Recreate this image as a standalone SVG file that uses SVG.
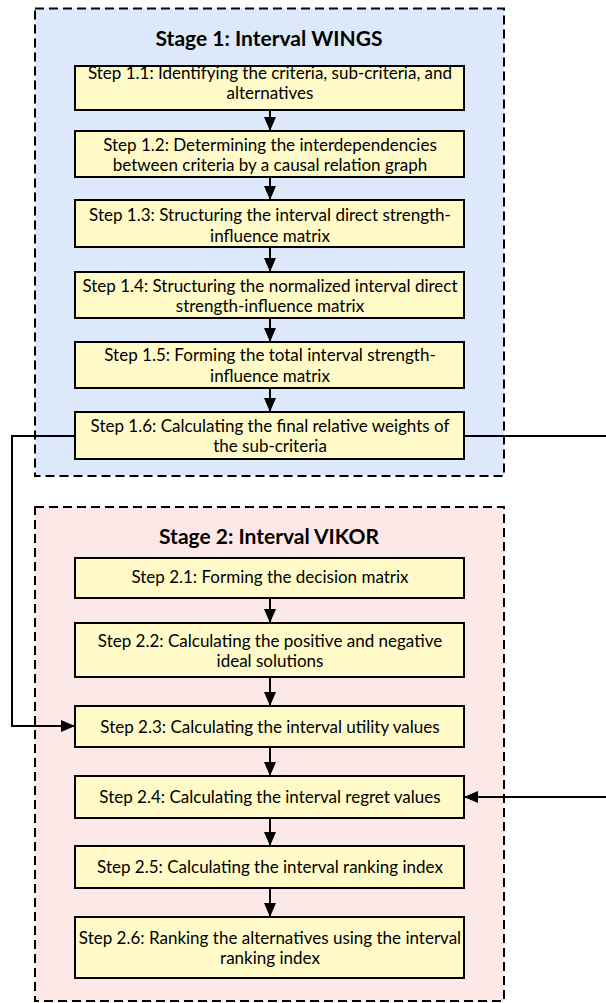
<svg xmlns="http://www.w3.org/2000/svg" width="606" height="1003" viewBox="0 0 606 1003">
<style>
.stage{stroke:#000;stroke-width:2;stroke-dasharray:9 5}
.s1{fill:#dde9fb}
.s2{fill:#fde8e8}
.box{fill:#fffac8;stroke:#000;stroke-width:2}
.title{font-family:Lato,"Liberation Sans",sans-serif;font-weight:bold;font-size:21px;fill:#000;text-anchor:middle}
.t{font-family:Lato,"Liberation Sans",sans-serif;font-size:17px;fill:#000;text-anchor:middle}
.c{fill:none;stroke:#000;stroke-width:2}
</style>
<defs>
<marker id="ah" markerWidth="14" markerHeight="12" refX="14" refY="6" orient="auto" markerUnits="userSpaceOnUse">
<path d="M0,0 L14,6 L0,12 Z" fill="#000"/>
</marker>
</defs>
<g id="stage1">
<rect class="stage s1" x="35" y="8.5" width="469" height="467.5"/>
<text class="title" x="269" y="46">Stage 1: Interval WINGS</text>
</g>
<g id="stage2">
<rect class="stage s2" x="35" y="507" width="469" height="494"/>
<text class="title" x="269" y="544">Stage 2: Interval VIKOR</text>
</g>
<g id="step11"><rect class="box" x="75" y="66" width="389" height="44"/>
<text class="t" x="270" y="78.5">Step 1.1: Identifying the criteria, sub-criteria, and</text>
<text class="t" x="270" y="99">alternatives</text></g>
<g id="step12"><rect class="box" x="75" y="131" width="389" height="46"/>
<text class="t" x="270" y="150.75">Step 1.2: Determining the interdependencies</text>
<text class="t" x="270" y="171.25">between criteria by a causal relation graph</text></g>
<g id="step13"><rect class="box" x="75" y="200" width="389" height="47"/>
<text class="t" x="270" y="221.25">Step 1.3: Structuring the interval direct strength-</text>
<text class="t" x="270" y="241.75">influence matrix</text></g>
<g id="step14"><rect class="box" x="75" y="272" width="389" height="46"/>
<text class="t" x="270" y="291.75">Step 1.4: Structuring the normalized interval direct</text>
<text class="t" x="270" y="312.25">strength-influence matrix</text></g>
<g id="step15"><rect class="box" x="75" y="342" width="389" height="46"/>
<text class="t" x="270" y="361.25">Step 1.5: Forming the total interval strength-</text>
<text class="t" x="270" y="381.75">influence matrix</text></g>
<g id="step16"><rect class="box" x="75" y="412" width="389" height="47"/>
<text class="t" x="270" y="431.75">Step 1.6: Calculating the final relative weights of</text>
<text class="t" x="270" y="452.25">the sub-criteria</text></g>
<g id="step21"><rect class="box" x="75" y="558" width="389" height="40"/>
<text class="t" x="270" y="583">Step 2.1: Forming the decision matrix</text></g>
<g id="step22"><rect class="box" x="75" y="623" width="389" height="54"/>
<text class="t" x="270" y="646.75">Step 2.2: Calculating the positive and negative</text>
<text class="t" x="270" y="667.25">ideal solutions</text></g>
<g id="step23"><rect class="box" x="75" y="706" width="389" height="41"/>
<text class="t" x="270" y="733">Step 2.3: Calculating the interval utility values</text></g>
<g id="step24"><rect class="box" x="75" y="776" width="389" height="42"/>
<text class="t" x="270" y="803">Step 2.4: Calculating the interval regret values</text></g>
<g id="step25"><rect class="box" x="75" y="846" width="389" height="42"/>
<text class="t" x="270" y="873">Step 2.5: Calculating the interval ranking index</text></g>
<g id="step26"><rect class="box" x="75" y="917" width="389" height="61"/>
<text class="t" x="270" y="943.75">Step 2.6: Ranking the alternatives using the interval</text>
<text class="t" x="270" y="964.25">ranking index</text></g>
<g id="connectors">
<line class="c" x1="270" y1="110" x2="270" y2="131" marker-end="url(#ah)"/>
<line class="c" x1="270" y1="177" x2="270" y2="200" marker-end="url(#ah)"/>
<line class="c" x1="270" y1="247" x2="270" y2="272" marker-end="url(#ah)"/>
<line class="c" x1="270" y1="318" x2="270" y2="342" marker-end="url(#ah)"/>
<line class="c" x1="270" y1="388" x2="270" y2="412" marker-end="url(#ah)"/>
<line class="c" x1="270" y1="598" x2="270" y2="623" marker-end="url(#ah)"/>
<line class="c" x1="270" y1="677" x2="270" y2="706" marker-end="url(#ah)"/>
<line class="c" x1="270" y1="747" x2="270" y2="776" marker-end="url(#ah)"/>
<line class="c" x1="270" y1="818" x2="270" y2="846" marker-end="url(#ah)"/>
<line class="c" x1="270" y1="888" x2="270" y2="917" marker-end="url(#ah)"/>
<polyline class="c" points="75,436 12,436 12,726 75,726" marker-end="url(#ah)"/>
<polyline class="c" points="464,436 612,436 612,797 464,797" marker-end="url(#ah)"/>
</g>
</svg>
